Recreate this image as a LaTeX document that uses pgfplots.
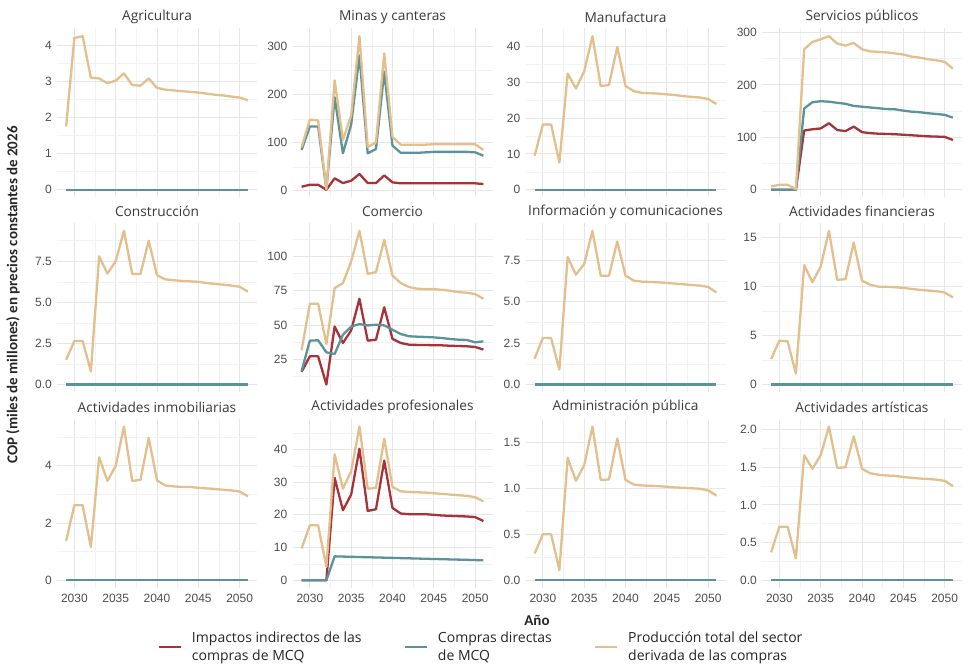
\documentclass[border=0pt]{standalone}
\usepackage{pgfplots}
\pgfplotsset{compat=1.18}
\usepackage{pgfplotstable}
\usepackage{fontspec}
\setmainfont{Open Sans}
\newfontfamily\tickfont{Liberation Sans}
\newfontfamily\labfont{Carlito}
\definecolor{cred}{HTML}{A8323A}
\definecolor{cblue}{HTML}{5B9398}
\definecolor{ctan}{HTML}{E2BF8D}
\definecolor{gridmaj}{HTML}{E6E6E6}
\definecolor{gridmin}{HTML}{F2F2F2}
\definecolor{ticktxt}{HTML}{4D4D4D}
\definecolor{striptxt}{HTML}{3A3A3A}

\pgfplotstableread{
y r b t
2029 0 0 1.75
2030 0 0 4.20
2031 0 0 4.25
2032 0 0 3.10
2033 0 0 3.08
2034 0 0 2.95
2035 0 0 3.02
2036 0 0 3.22
2037 0 0 2.90
2038 0 0 2.88
2039 0 0 3.08
2040 0 0 2.82
2041 0 0 2.77
2042 0 0 2.75
2043 0 0 2.73
2044 0 0 2.71
2045 0 0 2.69
2046 0 0 2.66
2047 0 0 2.63
2048 0 0 2.61
2049 0 0 2.58
2050 0 0 2.55
2051 0 0 2.48
}\tAgr

\pgfplotstableread{
y r b t
2029 8.4 85 90.7
2030 12.5 134 148
2031 12.5 134 146.5
2032 2 3 3.5
2033 26 195 230
2034 16 78 106
2035 21 138 157
2036 35 282 322
2037 16 78 91
2038 16 87 101
2039 32 248 286
2040 17.5 94 112
2041 15.5 79 96
2042 15.5 79 96
2043 15.5 79 96
2044 15.5 80 96
2045 15.5 81 97
2046 15.5 81 97
2047 15.5 81 97
2048 15.5 81 97
2049 15.5 81 97
2050 15.5 80 97
2051 14 73 85
}\tMin

\pgfplotstableread{
y r b t
2029 0 0 9.5
2030 0 0 18.2
2031 0 0 18.2
2032 0 0 7.6
2033 0 0 32.4
2034 0 0 28.2
2035 0 0 33.0
2036 0 0 42.8
2037 0 0 28.9
2038 0 0 29.2
2039 0 0 39.8
2040 0 0 28.9
2041 0 0 27.5
2042 0 0 27.0
2043 0 0 26.9
2044 0 0 26.8
2045 0 0 26.6
2046 0 0 26.4
2047 0 0 26.1
2048 0 0 25.9
2049 0 0 25.7
2050 0 0 25.3
2051 0 0 23.9
}\tMan

\pgfplotstableread{
y r b t
2029 0 0 6.3
2030 0 0 9.5
2031 0 0 9.5
2032 0 0 1.3
2033 113 155 268
2034 115.5 167 282
2035 117 169 287
2036 127 168 293
2037 114 166 279
2038 112 164 275
2039 120.5 160 280
2040 110 158.5 268
2041 108 157 264
2042 107 155.5 263
2043 106.5 154 262
2044 106 153.5 260
2045 105 151 258
2046 104 149 254
2047 103 148 252
2048 102 146 249
2049 101.5 144.6 247
2050 101 143 244
2051 95 137.6 231
}\tSer

\pgfplotstableread{
y r b t
2029 0 0 1.5
2030 0 0 2.65
2031 0 0 2.65
2032 0 0 0.8
2033 0 0 7.8
2034 0 0 6.75
2035 0 0 7.5
2036 0 0 9.35
2037 0 0 6.72
2038 0 0 6.72
2039 0 0 8.75
2040 0 0 6.65
2041 0 0 6.4
2042 0 0 6.35
2043 0 0 6.3
2044 0 0 6.28
2045 0 0 6.25
2046 0 0 6.18
2047 0 0 6.12
2048 0 0 6.08
2049 0 0 6.02
2050 0 0 5.95
2051 0 0 5.65
}\tCon

\pgfplotstableread{
y r b t
2029 16 16.5 31.7
2030 27.3 38.7 65.6
2031 27.3 39 65.6
2032 6.8 30.2 36.3
2033 49 29 77
2034 37 43 80.6
2035 46.2 49 96.4
2036 69.2 50.8 118.6
2037 38.7 49.8 87.3
2038 39.4 50.3 88.6
2039 63 49.8 112
2040 40 46.7 86
2041 37 43.5 80.6
2042 35.8 41.9 77.7
2043 35.6 41.6 76.5
2044 35.6 41.4 76.2
2045 35.3 41.1 76.2
2046 35.3 40.6 75.7
2047 35 39.9 75
2048 34.8 39.4 74
2049 34.6 39.2 73.6
2050 34.1 37.5 72.6
2051 32.2 38.2 69.2
}\tCom

\pgfplotstableread{
y r b t
2029 0 0 1.56
2030 0 0 2.8
2031 0 0 2.8
2032 0 0 0.9
2033 0 0 7.68
2034 0 0 6.62
2035 0 0 7.26
2036 0 0 9.26
2037 0 0 6.56
2038 0 0 6.56
2039 0 0 8.62
2040 0 0 6.56
2041 0 0 6.26
2042 0 0 6.2
2043 0 0 6.18
2044 0 0 6.16
2045 0 0 6.12
2046 0 0 6.08
2047 0 0 6.04
2048 0 0 6.0
2049 0 0 5.96
2050 0 0 5.88
2051 0 0 5.55
}\tInf

\pgfplotstableread{
y r b t
2029 0 0 2.6
2030 0 0 4.48
2031 0 0 4.41
2032 0 0 1.12
2033 0 0 12.2
2034 0 0 10.45
2035 0 0 12.05
2036 0 0 15.7
2037 0 0 10.7
2038 0 0 10.76
2039 0 0 14.5
2040 0 0 10.6
2041 0 0 10.2
2042 0 0 10.0
2043 0 0 9.98
2044 0 0 9.94
2045 0 0 9.87
2046 0 0 9.77
2047 0 0 9.67
2048 0 0 9.6
2049 0 0 9.54
2050 0 0 9.4
2051 0 0 8.9
}\tFin

\pgfplotstableread{
y r b t
2029 0 0 1.37
2030 0 0 2.62
2031 0 0 2.62
2032 0 0 1.16
2033 0 0 4.3
2034 0 0 3.47
2035 0 0 3.99
2036 0 0 5.37
2037 0 0 3.47
2038 0 0 3.51
2039 0 0 4.97
2040 0 0 3.49
2041 0 0 3.31
2042 0 0 3.28
2043 0 0 3.26
2044 0 0 3.26
2045 0 0 3.23
2046 0 0 3.21
2047 0 0 3.19
2048 0 0 3.16
2049 0 0 3.14
2050 0 0 3.1
2051 0 0 2.93
}\tInm

\pgfplotstableread{
y r b t
2029 0 0 9.7
2030 0 0 16.8
2031 0 0 16.8
2032 0 0 4.1
2033 31.3 7.3 38.5
2034 21.4 7.23 28
2035 26.2 7.16 33.3
2036 40.2 7.1 47
2037 21.2 7.03 28
2038 21.7 6.96 28.2
2039 36.6 6.9 43.3
2040 22.1 6.83 28.5
2041 20.4 6.76 27.2
2042 20.2 6.7 27
2043 20.2 6.63 26.9
2044 20.2 6.56 26.8
2045 20 6.5 26.6
2046 19.8 6.43 26.4
2047 19.7 6.36 26.2
2048 19.6 6.3 26
2049 19.5 6.23 25.8
2050 19.3 6.16 25.4
2051 18.1 6.1 24.1
}\tPro

\pgfplotstableread{
y r b t
2029 0 0 0.29
2030 0 0 0.5
2031 0 0 0.5
2032 0 0 0.11
2033 0 0 1.33
2034 0 0 1.08
2035 0 0 1.25
2036 0 0 1.67
2037 0 0 1.09
2038 0 0 1.095
2039 0 0 1.54
2040 0 0 1.09
2041 0 0 1.04
2042 0 0 1.03
2043 0 0 1.026
2044 0 0 1.023
2045 0 0 1.016
2046 0 0 1.008
2047 0 0 1.005
2048 0 0 1.0
2049 0 0 0.994
2050 0 0 0.976
2051 0 0 0.92
}\tAdm

\pgfplotstableread{
y r b t
2029 0 0 0.37
2030 0 0 0.71
2031 0 0 0.71
2032 0 0 0.29
2033 0 0 1.66
2034 0 0 1.48
2035 0 0 1.66
2036 0 0 2.04
2037 0 0 1.49
2038 0 0 1.5
2039 0 0 1.91
2040 0 0 1.48
2041 0 0 1.42
2042 0 0 1.4
2043 0 0 1.39
2044 0 0 1.385
2045 0 0 1.37
2046 0 0 1.36
2047 0 0 1.35
2048 0 0 1.345
2049 0 0 1.335
2050 0 0 1.32
2051 0 0 1.25
}\tArt

\pgfplotsset{
  facet/.style={
    scale only axis, width=200pt, height=169pt,
    xmin=2027.9, xmax=2052.1,
    enlarge y limits={rel=0.05},
    axis line style={draw=none},
    major tick length=0pt, minor tick length=0pt,
    xtick={2030,2035,...,2050},
    minor xtick={2032.5,2037.5,2042.5,2047.5},
    grid=both,
    major grid style={gridmaj, line width=0.9pt},
    minor grid style={gridmin, line width=0.5pt},
    /pgf/number format/assume math mode=true,
    /pgf/number format/1000 sep={},
    scaled y ticks=false,
    ticklabel style={font=\tickfont\fontsize{12}{14}\selectfont, text=ticktxt},
    yticklabel style={inner sep=0pt, xshift=-5pt},
    xticklabel style={inner sep=0pt, yshift=-6pt},
    title style={font=\fontsize{13.7}{16}\selectfont, text=striptxt, at={(0.5,1)}, anchor=center, yshift=5.5pt},
    every axis plot/.append style={line width=2.3pt, no markers, line join=round},
  },
  dec/.style={yticklabel style={/pgf/number format/.cd, fixed, fixed zerofill, precision=1}},
  nox/.style={xticklabels={}},
}

\newcommand\panel[5]{%
\begin{axis}[facet, at={(#1pt,#2pt)}, anchor=north west, title={#3}, #5]
\addplot[cred] table[x=y,y=r]{#4};
\addplot[cblue] table[x=y,y=b]{#4};
\addplot[ctan] table[x=y,y=t]{#4};
\end{axis}}

\begin{document}
\begin{tikzpicture}
\path[use as bounding box] (0,0) rectangle (971pt,671pt);
% row 1 (top at 642.5)
\panel{57}{642.5}{Agricultura}{\tAgr}{nox, ytick={0,1,2,3,4}, minor ytick={0.5,1.5,2.5,3.5}}
\panel{292.5}{642.5}{Minas y canteras}{\tMin}{nox, ytick={0,100,200,300}, minor ytick={50,150,250}}
\panel{525.5}{642.5}{Manufactura}{\tMan}{nox, ytick={0,10,20,30,40}, minor ytick={5,15,25,35}}
\panel{762}{642.5}{Servicios públicos}{\tSer}{nox, ytick={0,100,200,300}, minor ytick={50,150,250}}
% row 2 (top at 447.8)
\panel{57}{447.8}{Construcción}{\tCon}{nox, dec, ytick={0,2.5,5,7.5}, minor ytick={1.25,3.75,6.25,8.75}}
\panel{292.5}{447.8}{Comercio}{\tCom}{nox, ytick={25,50,75,100}, minor ytick={12.5,37.5,62.5,87.5,112.5}}
\panel{525.5}{447.8}{Información y comunicaciones}{\tInf}{nox, dec, ytick={0,2.5,5,7.5}, minor ytick={1.25,3.75,6.25,8.75}}
\panel{762}{447.8}{Actividades financieras}{\tFin}{nox, ytick={0,5,10,15}, minor ytick={2.5,7.5,12.5}}
% row 3 (top at 252.1)
\panel{57}{252.1}{Actividades inmobiliarias}{\tInm}{ytick={0,2,4}, minor ytick={1,3,5}}
\panel{292.5}{252.1}{Actividades profesionales}{\tPro}{ytick={0,10,20,30,40}, minor ytick={5,15,25,35,45},
  legend entries={{Impactos indirectos de las\\compras de MCQ},{Compras directas\\de MCQ},{Producción total del sector\\derivada de las compras}},
  legend columns=3,
  legend image code/.code={\draw[#1, line width=2.3pt] (0pt,0pt) -- (22pt,0pt);},
  legend style={draw=none, fill=none, at={(-0.69,-0.35)}, anchor=west,
    font=\fontsize{14}{18}\selectfont, text=black!85,
    cells={anchor=west, align=left},
    /tikz/every odd column/.append style={column sep=8pt},
    /tikz/every even column/.append style={column sep=40pt}}}
\panel{525.5}{252.1}{Administración pública}{\tAdm}{dec, ytick={0,0.5,1,1.5}, minor ytick={0.25,0.75,1.25}}
\panel{762}{252.1}{Actividades artísticas}{\tArt}{dec, ytick={0,0.5,1,1.5,2}, minor ytick={0.25,0.75,1.25,1.75}}
% axis titles
\node[font=\labfont\bfseries\fontsize{15}{17}\selectfont, text=black!85] at (537pt,51pt) {Año};
\node[font=\labfont\bfseries\fontsize{15}{17}\selectfont, text=black!85, rotate=90] at (13pt,376pt) {COP (miles de millones) en precios constantes de 2026};
\end{tikzpicture}
\end{document}
